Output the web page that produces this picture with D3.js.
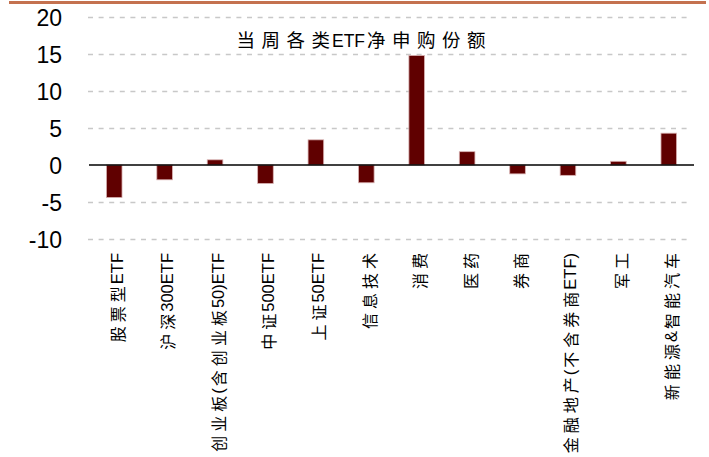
<!DOCTYPE html>
<html>
<head>
<meta charset="utf-8">
<script src="https://cdn.jsdelivr.net/npm/d3@7"></script>
<style>
  html, body { margin: 0; padding: 0; background: #fff; }
  svg { display: block; }
</style>
</head>
<body>
<svg id="chart" width="709" height="457"></svg>
<script>
// Weekly net subscription (shares, 亿份) by ETF category
const categories = [
  "股票型ETF", "沪深300ETF", "创业板(含创业板50)ETF", "中证500ETF", "上证50ETF",
  "信息技术", "消费", "医药", "券商", "金融地产(不含券商ETF)", "军工", "新能源&智能汽车"
];
const values = [-4.4, -2.0, 0.7, -2.5, 3.4, -2.4, 14.8, 1.8, -1.2, -1.4, 0.5, 4.3];
const yTicks = [-10, -5, 0, 5, 10, 15, 20];
const title = "当周各类ETF净申购份额";

const svg = d3.select("#chart");
const plot = { left: 89, right: 694, top: 17, bottom: 239 };

const x = d3.scaleBand()
  .domain(categories)
  .range([plot.left, plot.right])
  .paddingInner(0.69)
  .paddingOuter(0.345);

const y = d3.scaleLinear()
  .domain([-10, 20])
  .range([plot.bottom, plot.top]);

const latinFont = "'Liberation Sans', Arial, sans-serif";
const cjkFont = "'Noto Sans CJK SC', sans-serif";
const isCJK = ch => /[\u3400-\u9fff]/.test(ch);

// Top rule
svg.append("line")
  .attr("x1", 9).attr("x2", 706)
  .attr("y1", 2.5).attr("y2", 2.5)
  .attr("stroke", "#c4714f").attr("stroke-width", 3);

// Dashed grid lines
svg.append("g")
  .selectAll("line")
  .data(yTicks.filter(t => t !== 0))
  .join("line")
  .attr("x1", plot.left - 1).attr("x2", 692)
  .attr("y1", d => Math.round(y(d)) + 0.5).attr("y2", d => Math.round(y(d)) + 0.5)
  .attr("stroke", "#c8c8c8").attr("stroke-width", 1.3)
  .attr("stroke-dasharray", "5,5.6");

// Y axis labels (axis line hidden), plain hyphen for negatives
const yAxis = d3.axisLeft(y).tickValues(yTicks).tickSize(0).tickPadding(0)
  .tickFormat(d => String(d));
const gy = svg.append("g").attr("transform", "translate(62,0)").call(yAxis);
gy.select(".domain").remove();
gy.selectAll("text")
  .attr("font-family", latinFont)
  .attr("font-size", 23)
  .attr("fill", "#000")
  .attr("dy", "0.36em");

// Bars
svg.append("g")
  .selectAll("rect")
  .data(values)
  .join("rect")
  .attr("x", (d, i) => x(categories[i]))
  .attr("width", x.bandwidth())
  .attr("y", d => y(Math.max(0, d)))
  .attr("height", d => Math.abs(y(d) - y(0)))
  .attr("fill", "#600000")
  .attr("stroke", "#d9b3b3")
  .attr("stroke-width", 0.8);

// Zero line
svg.append("line")
  .attr("x1", plot.left).attr("x2", plot.right)
  .attr("y1", y(0)).attr("y2", y(0))
  .attr("stroke", "#000").attr("stroke-width", 1.5);

// Writes mixed CJK / Latin text, one tspan per character, with wider CJK spacing
function writeMixed(textSel, str, cjkSize, latinSize, cjkGap, mixGap) {
  const chars = Array.from(str);
  chars.forEach((ch, i) => {
    const cjk = isCJK(ch);
    let dx = 0;
    if (i > 0) {
      const prevCJK = isCJK(chars[i - 1]);
      if (cjk && prevCJK) dx = cjkGap;
      else if (cjk || prevCJK) dx = mixGap;
    }
    textSel.append("tspan")
      .attr("dx", dx)
      .attr("font-family", cjk ? cjkFont : latinFont)
      .attr("font-size", cjk ? cjkSize : latinSize)
      .text(ch);
  });
}

// Title
const t = svg.append("text")
  .attr("x", 361).attr("y", 47)
  .attr("text-anchor", "middle")
  .attr("fill", "#000");
writeMixed(t, title, 18.5, 17.5, 6.5, 2);

// Vertical category labels
svg.append("g")
  .selectAll("text")
  .data(categories)
  .join("text")
  .attr("transform", d => `translate(${x(d) + x.bandwidth() / 2 + 2.5},253) rotate(-90)`)
  .attr("text-anchor", "end")
  .attr("dominant-baseline", "central")
  .attr("fill", "#000")
  .each(function (d) { writeMixed(d3.select(this), d, 16, 16.5, 4, 2); });
</script>
</body>
</html>
